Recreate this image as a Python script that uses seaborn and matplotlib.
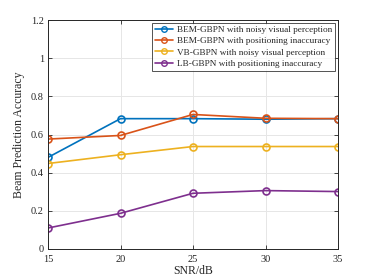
import matplotlib
matplotlib.use("Agg")
import matplotlib.pyplot as plt
import seaborn as sns
import pandas as pd
from matplotlib.ticker import FuncFormatter

snr = [15, 20, 25, 30, 35]
bem_noisy = [0.480, 0.683, 0.683, 0.680, 0.683]
bem_pos = [0.576, 0.595, 0.705, 0.685, 0.683]
vb_noisy = [0.448, 0.494, 0.537, 0.537, 0.537]
lb_pos = [0.110, 0.187, 0.292, 0.306, 0.301]
labels = ["BEM-GBPN with noisy visual perception",
          "BEM-GBPN with positioning inaccuracy",
          "VB-GBPN with noisy visual perception",
          "LB-GBPN with positioning inaccuracy"]
colors = ["#0072BD", "#D95319", "#EDB120", "#7E2F8E"]

rows = []
for lab, vals in zip(labels, [bem_noisy, bem_pos, vb_noisy, lb_pos]):
    for x, y in zip(snr, vals):
        rows.append({"SNR": x, "Acc": y, "Method": lab})
df = pd.DataFrame(rows)

sns.set_style("white")
plt.rcParams['font.family'] = ['Liberation Serif', 'DejaVu Serif']

fig = plt.figure(figsize=(3.74, 2.8), dpi=100)
ax = fig.add_axes([48/374, 1-249/280, 290/374, 229/280])
sns.lineplot(data=df, x="SNR", y="Acc", hue="Method", palette=colors,
             hue_order=labels, marker="o", markersize=5, markerfacecolor="none",
             markeredgewidth=1.2, linewidth=1.2, ax=ax)
for line in ax.lines:
    line.set_markeredgecolor(line.get_color())
    line.set_markerfacecolor("none")

ax.set_xlim(15, 35)
ax.set_ylim(0, 1.2)
ax.set_xticks(snr)
ax.set_yticks([0, 0.2, 0.4, 0.6, 0.8, 1.0, 1.2])
ax.yaxis.set_major_formatter(FuncFormatter(lambda v, p: f"{v:g}"))
ax.grid(True, color="#e6e6e6", linewidth=0.7)
ax.set_axisbelow(True)
for s in ax.spines.values():
    s.set_color("#262626")
    s.set_linewidth(0.7)
ax.tick_params(direction="in", length=3, width=0.6, labelsize=7.5, colors="#262626",
               top=True, right=True, bottom=True, left=True)
ax.tick_params(axis="x", pad=4)
ax.tick_params(axis="y", pad=3)
ax.set_xlabel("SNR/dB", fontsize=8.5, color="#262626", labelpad=1)
ax.set_ylabel("Beam Prediction Accuracy", fontsize=8.5, color="#262626", labelpad=4)

leg = ax.legend(loc="upper right", fontsize=6.7, frameon=True, fancybox=False,
                edgecolor="#262626", borderpad=0.3, labelspacing=0.3,
                handlelength=2.0, handletextpad=0.4, borderaxespad=0.3)
leg.get_frame().set_linewidth(0.7)
for h in leg.get_lines():
    h.set_markerfacecolor("none")
    h.set_markersize(4)
    h.set_linewidth(1.2)
    h.set_markeredgewidth(1.0)

fig.savefig("out.png", dpi=100)
